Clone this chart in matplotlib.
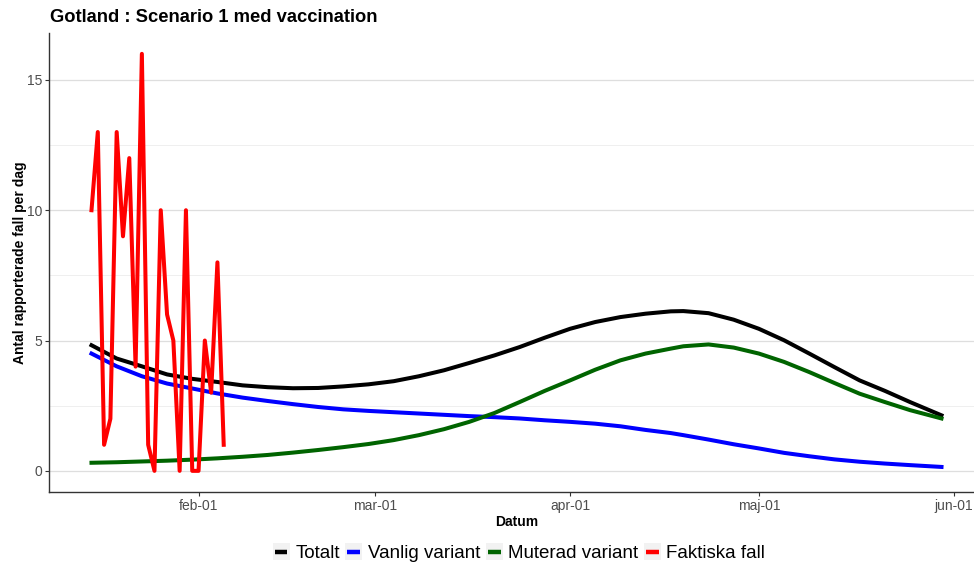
import matplotlib
matplotlib.use("Agg")
import matplotlib.pyplot as plt
import pandas as pd
from matplotlib.lines import Line2D
from matplotlib.patches import Rectangle
from matplotlib.legend_handler import HandlerBase

plt.rcParams['font.family'] = ['Liberation Sans', 'DejaVu Sans']

# modelled curves
model_dates = pd.to_datetime([
    "2021-01-15", "2021-01-19", "2021-01-23", "2021-01-27", "2021-01-31",
    "2021-02-04", "2021-02-08", "2021-02-12", "2021-02-16", "2021-02-20",
    "2021-02-24", "2021-02-28", "2021-03-04", "2021-03-08", "2021-03-12",
    "2021-03-16", "2021-03-20", "2021-03-24", "2021-03-28", "2021-04-01",
    "2021-04-05", "2021-04-09", "2021-04-13", "2021-04-17", "2021-04-19",
    "2021-04-23", "2021-04-27", "2021-05-01", "2021-05-05", "2021-05-09",
    "2021-05-13", "2021-05-17", "2021-05-21", "2021-05-25", "2021-05-30"])
totalt = [4.82, 4.31, 4.01, 3.70, 3.53, 3.41, 3.28, 3.21, 3.17, 3.18,
          3.24, 3.32, 3.44, 3.63, 3.86, 4.14, 4.43, 4.75, 5.11, 5.45,
          5.71, 5.90, 6.03, 6.12, 6.13, 6.05, 5.80, 5.45, 5.01, 4.50,
          3.98, 3.47, 3.07, 2.64, 2.13]
vanlig = [4.50, 4.01, 3.63, 3.35, 3.16, 2.97, 2.81, 2.68, 2.56, 2.45,
          2.36, 2.30, 2.25, 2.20, 2.15, 2.10, 2.06, 2.01, 1.94, 1.88,
          1.81, 1.71, 1.57, 1.45, 1.37, 1.20, 1.02, 0.86, 0.69, 0.56,
          0.44, 0.35, 0.28, 0.22, 0.15]
muterad = [0.31, 0.33, 0.36, 0.39, 0.43, 0.48, 0.54, 0.61, 0.70, 0.80,
           0.91, 1.03, 1.18, 1.37, 1.60, 1.88, 2.22, 2.64, 3.07, 3.47,
           3.88, 4.24, 4.50, 4.69, 4.78, 4.85, 4.73, 4.50, 4.18, 3.79,
           3.37, 2.96, 2.64, 2.33, 2.01]

# reported daily cases
fall_dates = pd.date_range("2021-01-15", "2021-02-05", freq="D")
faktiska = [10, 13, 1, 2, 13, 9, 12, 4, 16, 1, 0, 10, 6, 5, 0, 10, 0, 0,
            5, 3, 8, 1]


class KeyHandler(HandlerBase):
    # ggplot-like legend key: grey square with a short line across
    def create_artists(self, legend, orig_handle, xdescent, ydescent,
                       width, height, fontsize, trans):
        cy = height / 2 - ydescent
        side = width
        bg = Rectangle((-xdescent, cy - side / 2), side, side,
                       facecolor="#f2f2f2", edgecolor="none", transform=trans)
        ln = Line2D([-xdescent + 0.12 * side, -xdescent + 0.88 * side], [cy, cy],
                    color=orig_handle.get_color(), lw=3.2,
                    solid_capstyle="butt", transform=trans)
        return [bg, ln]


fig = plt.figure(figsize=(9.74, 5.67), dpi=100)
ax = fig.add_axes([49 / 974, 1 - 491.7 / 567, 935 / 974, (491.7 - 33) / 567])

lw = 2.9
l1, = ax.plot(model_dates, totalt, color="black", lw=lw, label="Totalt")
l2, = ax.plot(model_dates, vanlig, color="#0000ff", lw=lw, label="Vanlig variant")
l3, = ax.plot(model_dates, muterad, color="#006400", lw=lw, label="Muterad variant")
l4, = ax.plot(fall_dates, faktiska, color="#ff0000", lw=lw, label="Faktiska fall")

start = pd.Timestamp("2021-01-15")
end = pd.Timestamp("2021-05-30")
pad = (end - start) * 0.05
ax.set_xlim(start - pad, end + pad)
ax.set_ylim(-0.8, 16.8)

ax.set_yticks([0, 5, 10, 15])
ax.set_yticks([2.5, 7.5, 12.5], minor=True)
ax.yaxis.grid(True, which="major", color="#dedede", lw=0.9)
ax.yaxis.grid(True, which="minor", color="#ececec", lw=0.6)
ax.set_axisbelow(True)
ax.tick_params(axis="y", which="minor", length=0)

xt = pd.to_datetime(["2021-02-01", "2021-03-01", "2021-04-01", "2021-05-01", "2021-06-01"])
ax.set_xticks(xt)
ax.set_xticklabels(["feb-01", "mar-01", "apr-01", "maj-01", "jun-01"])

ax.tick_params(axis="both", which="major", colors="#333333", labelcolor="#4d4d4d",
               labelsize=10, length=3, width=0.8, pad=2)
for s in ["top", "right"]:
    ax.spines[s].set_visible(False)
for s in ["left", "bottom"]:
    ax.spines[s].set_color("#333333")
    ax.spines[s].set_linewidth(1.0)

ax.set_xlabel("Datum", fontsize=10, fontweight="bold", labelpad=2)
ax.set_ylabel("Antal rapporterade fall per dag", fontsize=10, fontweight="bold", labelpad=0)

fig.text(50 / 974, 1 - 17 / 567, "Gotland : Scenario 1 med vaccination",
         fontsize=13.2, fontweight="bold", va="center", ha="left")

leg = fig.legend(handles=[l1, l2, l3, l4], loc="center",
                 bbox_to_anchor=(519 / 974, 1 - 553 / 567), ncol=4,
                 frameon=False, fontsize=13.5, handlelength=0.9, handleheight=0.9,
                 handletextpad=0.3, columnspacing=0.3,
                 handler_map={Line2D: KeyHandler()})

fig.savefig("out.png", dpi=100)
